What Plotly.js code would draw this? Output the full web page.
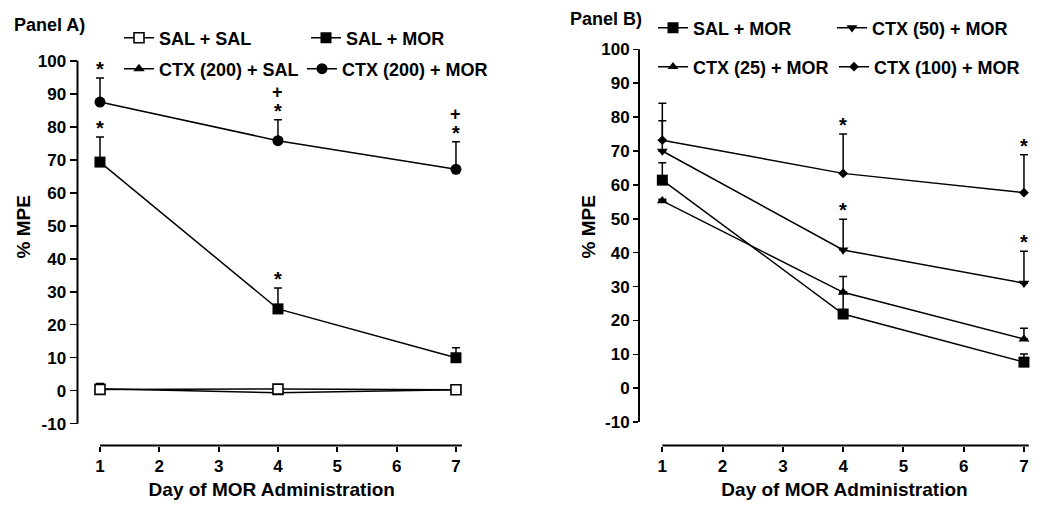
<!DOCTYPE html>
<html><head><meta charset="utf-8">
<script src="https://cdn.plot.ly/plotly-3.0.1.min.js"></script>
<style>html,body{margin:0;padding:0;background:#fff}</style>
</head><body><div id="chart" style="width:1050px;height:513px"></div>
<script>
// ---------- data ----------
const days = [1, 4, 7];
const xTicks = [1, 2, 3, 4, 5, 6, 7];
const yTicks = [-10, 0, 10, 20, 30, 40, 50, 60, 70, 80, 90, 100];
const yTickText = ['-10', '0', '10', '20', '30', '40', '50', '60', '70', '80', '90', '100'];

// Panel A
const salSal = [0.4, 0.5, 0.3];
const salSalErr = [1.8, 0.4, 0.4];
const ctx200Sal = [0.6, -0.6, 0.3];
const ctx200SalErr = [0.3, 0.3, 0.3];
const salMorA = [69.3, 24.8, 10.0];
const salMorAErr = [7.6, 6.3, 3.0];
const ctx200Mor = [87.5, 75.8, 67.1];
const ctx200MorErr = [7.3, 6.3, 8.4];
const salMorASig = ['*', '*', ''];
const ctx200MorSig = ['*', '+*', '+*'];

// Panel B
const salMorB = [61.4, 21.9, 7.7];
const salMorBErr = [5.1, 6.5, 2.4];
const ctx50Mor = [70.0, 40.8, 31.0];
const ctx50MorErr = [8.9, 9.1, 9.4];
const ctx25Mor = [55.3, 28.3, 14.5];
const ctx25MorErr = [0.5, 4.7, 3.2];
const ctx100Mor = [73.2, 63.4, 57.7];
const ctx100MorErr = [10.9, 11.6, 11.2];
const ctx50Sig = ['', '*', '*'];
const ctx100Sig = ['', '*', '*'];

// ---------- style ----------
const FONT = 'Liberation Sans, Arial, Helvetica, sans-serif';
const W = 1050, H = 513;
const xrA = [0.621, 7.169], yrA = [-16.6, 116.0];
const xrB = [0.613, 7.432], yrB = [-16.9, 112.2];
const yDom = [1 - 445.5 / H, 1 - 8 / H];

function trace(name, y, err, symbol, size, xa, ya, legend, lw, fill) {
  const t = {
    type: 'scatter', mode: 'lines+markers', name: name,
    x: days, y: y, xaxis: xa, yaxis: ya, legend: legend,
    cliponaxis: false,
    line: {color: '#000', width: 1.5},
    marker: {symbol: symbol, size: size, color: fill || '#000', line: {color: '#000', width: fill ? 1.6 : 0}},
    error_y: {type: 'data', symmetric: false, array: err, arrayminus: err.map(() => 0),
              color: '#000', thickness: 1.5, width: 4, visible: true}
  };
  if (lw) t.legendwidth = lw;
  return t;
}

const data = [
  trace('CTX (200) + SAL', ctx200Sal, ctx200SalErr, 'triangle-up', 10, 'x', 'y', 'legend2', 138),
  trace('SAL + SAL', salSal, salSalErr, 'square', 10, 'x', 'y', 'legend', 142, '#fff'),
  trace('SAL + MOR', salMorA, salMorAErr, 'square', 11, 'x', 'y', 'legend'),
  trace('CTX (200) + MOR', ctx200Mor, ctx200MorErr, 'circle', 11, 'x', 'y', 'legend2'),
  trace('SAL + MOR', salMorB, salMorBErr, 'square', 11, 'x2', 'y2', 'legend3', 134),
  trace('CTX (50) + MOR', ctx50Mor, ctx50MorErr, 'triangle-down', 9.5, 'x2', 'y2', 'legend3'),
  trace('CTX (25) + MOR', ctx25Mor, ctx25MorErr, 'triangle-up', 9.5, 'x2', 'y2', 'legend4', 136),
  trace('CTX (100) + MOR', ctx100Mor, ctx100MorErr, 'diamond', 7.5, 'x2', 'y2', 'legend4')
];

const annotations = [];
function sig(labels, vals, errs, xa, ya) {
  labels.forEach((lab, i) => {
    const top = vals[i] + errs[i];
    if (lab.indexOf('*') >= 0) annotations.push({xref: xa, yref: ya, x: days[i], y: top, text: '*',
      showarrow: false, yanchor: 'middle', xanchor: 'center', yshift: 9,
      font: {family: FONT, size: 20, weight: 700, color: '#000'}});
    if (lab.indexOf('+') >= 0) annotations.push({xref: xa, yref: ya, x: days[i], y: top, text: '+',
      showarrow: false, yanchor: 'middle', xanchor: 'center', yshift: 28,
      font: {family: FONT, size: 18, weight: 700, color: '#000'}});
  });
}
sig(salMorASig, salMorA, salMorAErr, 'x', 'y');
sig(ctx200MorSig, ctx200Mor, ctx200MorErr, 'x', 'y');
sig(ctx50Sig, ctx50Mor, ctx50MorErr, 'x2', 'y2');
sig(ctx100Sig, ctx100Mor, ctx100MorErr, 'x2', 'y2');

annotations.push({xref: 'paper', yref: 'paper', x: 12 / W, y: 1 - 25 / H, xanchor: 'left', yanchor: 'middle',
  text: 'Panel A)', showarrow: false, font: {family: FONT, size: 18, weight: 700, color: '#000'}});
annotations.push({xref: 'paper', yref: 'paper', x: 568 / W, y: 1 - 19 / H, xanchor: 'left', yanchor: 'middle',
  text: 'Panel B)', showarrow: false, font: {family: FONT, size: 18, weight: 700, color: '#000'}});

function axisLines(xa, ya, xr, yr, xEnd) {
  const fx = v => (v - xr[0]) / (xr[1] - xr[0]);
  const fy = v => (v - yr[0]) / (yr[1] - yr[0]);
  return [
    {type: 'line', xref: xa + ' domain', yref: ya + ' domain', x0: fx(xTicks[0]), x1: fx(xEnd), y0: 0, y1: 0,
     line: {color: '#000', width: 2}},
    {type: 'line', xref: xa + ' domain', yref: ya + ' domain', x0: 0, x1: 0,
     y0: fy(yTicks[0]), y1: fy(yTicks[yTicks.length - 1]), line: {color: '#000', width: 2}}
  ];
}

const tickFont = {family: FONT, size: 17, weight: 700, color: '#000'};
const titleFont = {family: FONT, size: 19, weight: 700, color: '#000'};
function xAxis(dom, rng, anchor) {
  return {domain: dom, range: rng, anchor: anchor, tickmode: 'array', tickvals: xTicks,
    ticks: 'outside', ticklen: 5, tickwidth: 2, tickcolor: '#000', showline: false, showgrid: false,
    zeroline: false, tickfont: tickFont, fixedrange: true,
    title: {text: 'Day of MOR Administration', font: titleFont, standoff: 7}};
}
function yAxis(rng, anchor, tl, so) {
  return {domain: yDom, range: rng, anchor: anchor, tickmode: 'array', tickvals: yTicks, ticktext: yTickText,
    ticks: 'outside', ticklen: tl, tickwidth: 1.5, tickcolor: '#000', showline: false, showgrid: false,
    zeroline: false, tickfont: tickFont, fixedrange: true,
    title: {text: '% MPE', font: titleFont, standoff: so}};
}
function leg(x, y) {
  return {orientation: 'h', x: x, y: y, xref: 'paper', yref: 'paper', xanchor: 'left', yanchor: 'top',
    bgcolor: 'rgba(0,0,0,0)', borderwidth: 0,
    font: {family: FONT, size: 18, weight: 700, color: '#000'}};
}

const layout = {
  width: W, height: H, margin: {l: 0, r: 0, t: 0, b: 0},
  paper_bgcolor: '#fff', plot_bgcolor: '#fff', showlegend: true,
  font: {family: FONT, color: '#000'},
  xaxis: xAxis([77.5 / W, 466 / W], xrA, 'y'),
  yaxis: yAxis(yrA, 'x', 7, 2),
  xaxis2: xAxis([639 / W, 1], xrB, 'y2'),
  yaxis2: yAxis(yrB, 'x2', 5, 0),
  legend: leg(119 / W, 1 - 19.5 / H),
  legend2: leg(119 / W, 1 - 50.5 / H),
  legend3: leg(653 / W, 1 - 9.5 / H),
  legend4: leg(653 / W, 1 - 48.5 / H),
  shapes: axisLines('x', 'y', xrA, yrA, 7.1).concat(axisLines('x2', 'y2', xrB, yrB, 7.08)),
  annotations: annotations,
  hovermode: false
};

Plotly.newPlot('chart', data, layout, {staticPlot: true, displayModeBar: false});
</script>
</body></html>
